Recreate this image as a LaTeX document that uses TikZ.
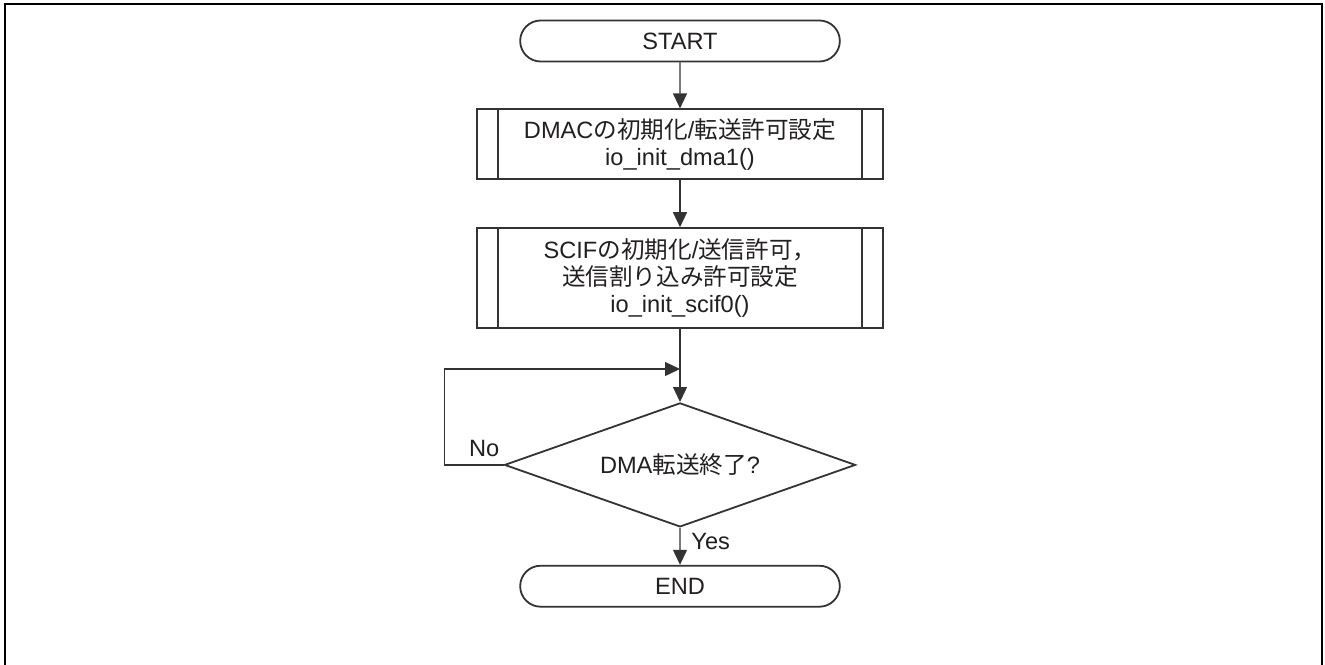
\documentclass[tikz,border=0pt]{standalone}
\usepackage{fontspec}
\setmainfont{Liberation Sans}
\newfontfamily\jp{Noto Sans CJK JP}
\usetikzlibrary{arrows.meta,positioning,shapes.geometric,shapes.misc}
\definecolor{flowline}{HTML}{333333}
\definecolor{flowtext}{HTML}{231F20}

\begin{document}
\begin{tikzpicture}[
  font=\fontsize{11.8}{13.5}\selectfont,
  term/.style={draw=flowline,line width=0.9pt,rounded rectangle,text=flowtext,
               minimum width=166.5pt,minimum height=20.5pt},
  subr/.style={draw=flowline,line width=0.9pt,align=center,text=flowtext,
               minimum width=203pt},
  cond/.style={draw=flowline,line width=0.9pt,diamond,shape aspect=2.83,
               inner sep=0pt,text=flowtext,
               minimum width=175.5pt,minimum height=62pt},
  lbl/.style={inner sep=0pt,text=flowtext},
  arr/.style={-{Triangle[length=7.5pt,width=7pt]},line width=0.65pt,flowline}
]
  \useasboundingbox (0,0) rectangle (662.5pt,-332pt);
  \draw[line width=1.3pt] (2.5pt,-2pt) rectangle (661pt,-334pt);

  \node[term] (start) at (340pt,-20.5pt) {START};
  \node[subr,minimum height=35pt,below=23pt of start] (init1)
    {DMAC{\jp の初期化}/{\jp 転送許可設定}\\io\_init\_dma1()};
  \node[subr,minimum height=50pt,below=23.5pt of init1] (init2)
    {SCIF{\jp の初期化}/{\jp 送信許可，}\\{\jp 送信割り込み許可設定}\\io\_init\_scif0()};
  \node[cond,below=36.5pt of init2] (done) {DMA{\jp 転送終了}?};
  \node[term,below=18.5pt of done] (end) {END};
  \coordinate[below=20pt of init2] (merge);
  \node[lbl,anchor=south east] (no) at ([shift={(-2pt,4pt)}]done.west) {No};
  \node[lbl,anchor=north west] (yes) at ([shift={(5.5pt,-2.5pt)}]done.south) {Yes};

  % side bars of the subroutine boxes
  \foreach \proc in {init1,init2}
    \draw[flowline,line width=0.9pt]
      ([xshift=11pt]\proc.north west) -- ([xshift=11pt]\proc.south west)
      ([xshift=-11pt]\proc.north east) -- ([xshift=-11pt]\proc.south east);

  \draw[arr] (start) -- (init1);
  \draw[arr] (init1) -- (init2);
  \draw[arr] (init2) -- (done);
  \draw[arr] (done) -- (end);
  \draw[arr] (done.west) -- ++(-29.5pt,0) |- (merge);
\end{tikzpicture}
\end{document}
